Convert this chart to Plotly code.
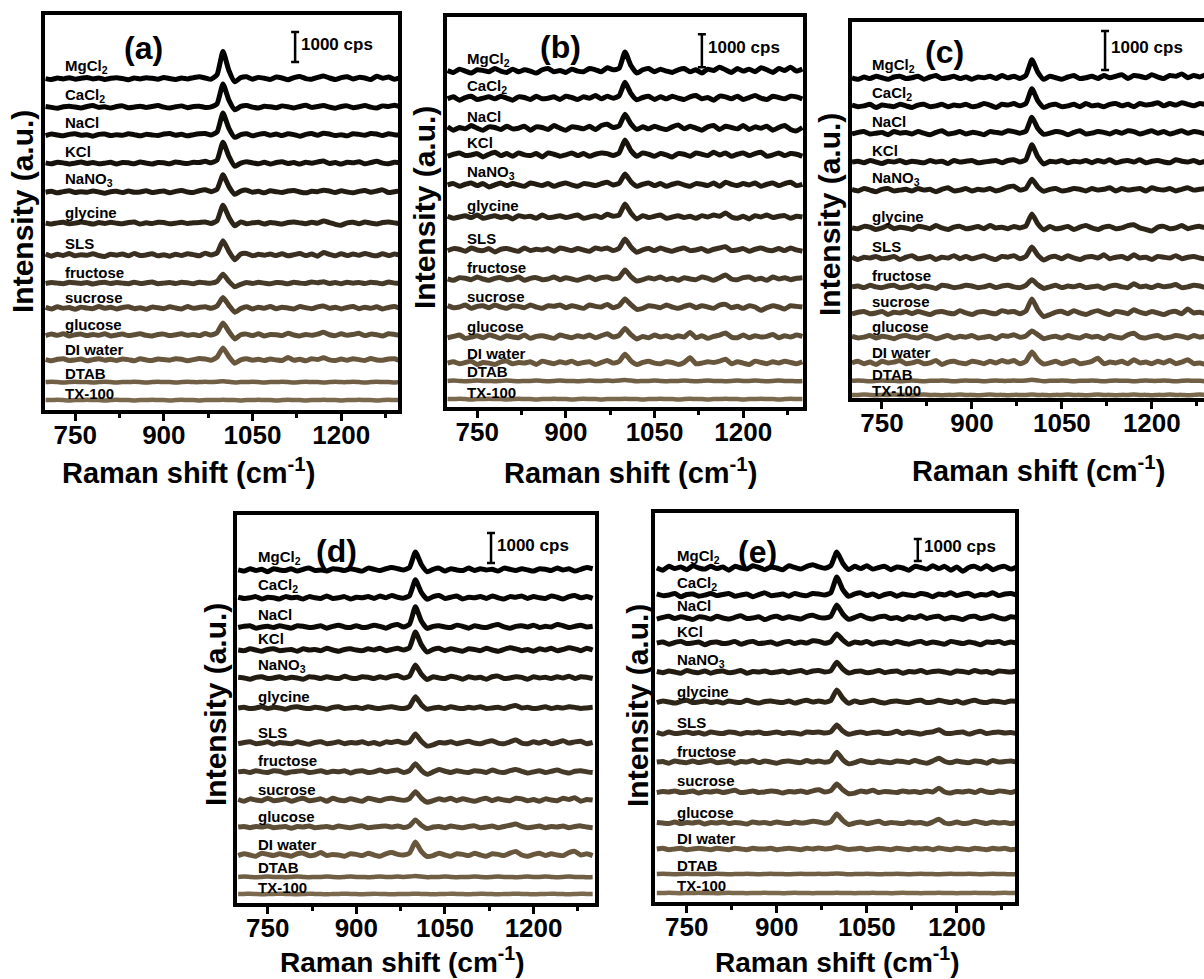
import plotly.graph_objects as go

# ---------------- data ----------------
SHIFT = list(range(700, 1301, 10))  # Raman shift grid, cm-1

LABELS = ["MgCl<sub>2</sub>", "CaCl<sub>2</sub>", "NaCl", "KCl", "NaNO<sub>3</sub>",
          "glycine", "SLS", "fructose", "sucrose", "glucose", "DI water", "DTAB", "TX-100"]

COLORS = ["#000000", "#060503", "#0c0a06", "#16120b", "#211b12", "#2d2518", "#3a2f20",
          "#463a28", "#52442f", "#5d4e37", "#68573d", "#715f45", "#7b694e"]

PANEL_TAGS = ["(a)", "(b)", "(c)", "(d)", "(e)"]

# vertical stacking offsets of each spectrum (cps)
OFFSETS_A = [11050, 10100, 9170, 8230, 7270, 6230, 5170, 4230, 3400, 2500, 1670, 930, 330]
OFFSETS_B = [10180, 9360, 8450, 7640, 6730, 5760, 4760, 3880, 3030, 2120, 1330, 790, 240]
OFFSETS_C = [8210, 7490, 6790, 6050, 5330, 4360, 3590, 2850, 2180, 1560, 900, 440, 80]
OFFSETS_D = [11100, 10170, 9200, 8430, 7500, 6500, 5330, 4370, 3430, 2530, 1600, 870, 300]
OFFSETS_E = [15180, 13950, 12910, 11770, 10450, 9090, 7680, 6360, 5000, 3590, 2410, 1270, 410]

DTAB_FLAT = [0,10,0,-10,0,10,0,0,-10,0, 10,0,-10,0,0,10,0,-10,0,10, 0,0,-10,0,10,0,0,10,0,10,
             30,10,-10,0,0,10,0,-10,0,0, 10,0,-10,0,10,0,0,-10,0,10, 0,0,10,0,-10,0,10,0,0,-10, 0]
TX100_FLAT = [0,0,10,0,-10,0,0,10,0,0, -10,0,10,0,0,-10,0,0,10,0, 0,-10,0,10,0,0,-10,0,0,0,
              10,0,0,-10,0,0,10,0,0,-10, 0,10,0,0,-10,0,0,10,0,0, -10,0,0,10,0,0,-10,0,10,0, 0]

# spectra relative to their offsets (cps), one row per sample, on the SHIFT grid
SPEC_A = [
    [0,-30,20,-10,30,-20,10,40,-10,20, -30,10,30,0,-40,20,-10,30,10,-20, 40,0,-30,20,-10,30,60,20,-20,130,
     900,270,-110,30,60,-20,40,10,-30,50, 20,-40,30,70,0,-20,40,90,20,-30, 30,60,-10,40,20,-30,80,10,50,-20, 30],
    [20,-10,-40,10,30,0,-30,20,50,-10, 10,-30,20,40,-20,0,30,-10,20,50, 0,-30,10,40,-20,20,30,-10,10,110,
     770,230,-90,20,50,0,-30,30,10,-20, 40,10,-30,20,60,-10,20,50,0,-40, 20,40,-20,10,50,0,-30,40,20,60, 10],
    [-20,30,0,-30,20,40,-10,10,-40,20, 30,-20,10,-10,40,10,-30,20,0,-20, 30,50,-10,20,-30,10,40,50,0,100,
     730,220,-80,10,40,-30,20,50,-10,30, -20,40,10,-40,20,50,-10,60,30,-20, 10,-30,40,20,-10,50,30,-20,40,10, -10],
    [10,-20,30,10,-30,0,40,-10,20,-20, 0,30,-30,20,10,-20,40,0,-30,20, 10,-20,40,10,-10,30,20,60,10,100,
     700,230,-100,0,50,10,-20,30,-30,20, 50,-10,20,-30,30,0,40,70,-10,20, -30,30,10,50,-20,20,60,0,-20,30, 20],
    [-10,20,-30,10,40,-20,10,-10,30,0, -40,10,20,-20,30,-10,0,40,-20,10, 30,-30,20,50,0,-20,40,70,10,90,
     570,180,-80,30,60,-10,20,-30,40,10, -20,30,50,0,-30,20,10,60,30,-20, 40,0,-30,20,50,-10,30,70,-20,10, 30],
    [0,-30,10,30,-20,0,40,10,-30,20, -10,30,0,-20,20,40,-30,10,-10,30, 20,-20,0,30,-10,10,20,40,-10,80,
     600,200,-90,40,-20,10,30,-30,20,0, -30,20,40,10,-20,30,0,70,20,-40, -70,10,30,-20,40,0,-30,20,40,10, -20],
    [30,-40,20,-20,50,-30,10,-10,40,-20, -50,20,-10,30,-30,50,-20,0,40,-30, 10,-40,20,-20,40,10,-30,60,0,70,
     470,120,-160,30,50,-30,20,-10,30,-20, 40,-30,10,50,-20,30,-40,80,20,-30, 40,-20,30,-10,50,0,-30,40,-20,30, -10],
    [-10,20,0,-20,30,10,-10,20,-30,10, 30,-10,20,0,-20,30,-10,10,40,-20, 0,20,-10,30,10,-20,30,10,0,60,
     300,60,-120,-40,20,-10,30,0,-20,20, 10,-20,30,0,-10,40,10,50,-10,20, -20,30,0,20,-10,30,10,-20,40,0, -10],
    [20,-30,40,-10,20,-40,30,0,-20,50, -10,30,-30,20,40,-20,10,-40,30,10, -20,40,0,-30,50,-10,20,40,-10,70,
     350,90,-140,-20,40,-30,30,-10,50,-20, 30,0,-30,50,10,-20,40,70,-10,30, -30,20,50,-20,30,-10,40,-30,20,50, -20],
    [-20,30,-10,40,-30,10,30,-20,20,-10, 40,-30,0,30,-20,10,40,-10,-30,20, 30,-20,10,40,-10,20,-20,50,0,80,
     400,120,-130,10,30,-20,40,-30,20,10, -20,60,0,-30,20,-10,30,90,10,-20, 40,-10,20,60,-20,30,10,-30,40,20, -10],
    [10,-30,20,40,-20,0,30,-30,10,40, -10,20,-20,30,10,-30,40,0,-20,30, 10,-10,40,20,-30,10,50,30,-10,90,
     400,110,-110,0,40,-10,20,-20,30,0, -20,80,-10,20,-30,40,10,70,0,-20, 30,-10,40,10,-20,50,0,-10,30,40, -30],
    DTAB_FLAT,
    TX100_FLAT,
]

SPEC_B = [
    [20,-40,60,0,-60,40,20,-20,80,0, -40,60,-20,40,0,-60,40,80,-20,20, -40,60,0,-20,80,40,-20,100,40,80,
     580,170,-60,40,80,-20,60,0,-40,40, 80,-20,40,-60,60,20,120,40,-40,80, 0,60,-20,100,40,-40,80,20,120,0, 60],
    [-20,40,-60,20,60,-40,0,40,-20,60, 0,-60,40,20,-40,60,-20,0,40,-40, 60,20,-40,40,0,80,-20,60,0,70,
     480,140,-50,20,60,-40,40,-20,60,0, -40,40,80,-20,20,-60,60,40,-20,60, -40,20,80,0,-40,60,20,-20,60,40, -20],
    [40,-60,20,-20,80,0,-60,40,20,-40, 60,-20,0,60,-60,40,20,-40,80,0, -60,40,20,-20,60,-40,80,120,20,70,
     420,130,-40,40,-20,60,0,-40,40,100, -20,60,0,-60,40,80,-40,60,20,-20, 80,-40,40,0,60,-60,20,80,-40,-80, 20],
    [-40,20,60,-20,0,40,-60,20,80,-20, 40,-40,60,0,-20,40,-60,60,20,-40, 0,60,-20,40,-40,20,60,40,-20,60,
     450,130,-40,60,20,-40,40,0,-60,40, 20,-40,60,20,-20,80,0,60,-40,20, 60,-20,40,80,-40,0,60,-20,40,20, -40],
    [0,40,-40,20,60,-20,40,-60,0,60, -20,40,0,-40,60,20,-20,40,-40,20, 60,0,-40,40,20,-20,40,80,0,50,
     330,100,-40,20,60,-20,40,-40,20,60, 0,-40,40,20,-20,60,-40,80,20,-20, 40,0,60,-40,20,60,-20,40,80,-20, 20],
    [20,-40,0,40,-20,60,-40,0,40,-20, 20,-60,40,0,20,-40,60,-20,0,40, -20,20,60,-40,0,40,-20,80,20,60,
     390,120,-60,40,-20,20,60,-40,0,40, -20,20,-40,40,0,60,20,120,0,-40, 20,-60,40,0,60,-20,20,40,-40,20, 0],
    [-20,40,20,-40,60,0,-20,40,-60,20, 40,0,-40,60,-20,20,0,40,-40,60, 20,-20,40,0,-40,60,20,60,-20,50,
     330,90,-70,0,40,-20,60,0,-40,20, 60,-20,0,40,-40,20,60,100,-20,0, 40,-40,20,60,0,-20,40,-20,60,0, -40],
    [0,-40,40,20,-20,60,0,-40,20,40, -20,0,60,-40,20,40,-20,0,60,-20, 40,0,-40,20,60,-20,40,60,0,40,
     270,70,-60,-20,40,0,60,-20,20,-40, 40,0,-20,60,20,-40,40,120,0,-20, 40,60,-20,20,-40,60,0,40,-20,20, 40],
    [40,-20,0,60,-40,20,40,-20,60,0, -40,40,20,-20,60,0,-40,40,20,60, -20,40,0,-40,60,20,0,80,-20,40,
     240,70,-70,-40,40,20,-20,60,0,-40, 20,60,-20,40,0,-40,60,80,-20,20, -40,40,0,-100,-20,40,0,-60,40,20, 0],
    [-20,20,60,-40,0,40,-20,60,20,-40, 40,0,-20,60,-40,20,40,0,-40,60, 20,-20,40,0,60,-20,40,100,0,50,
     260,70,-60,20,-20,60,0,40,-20,40, 0,140,-20,40,-40,20,60,120,0,-20, 60,-20,40,0,20,80,-20,40,0,60, 20],
    [0,40,-20,20,60,-40,20,0,-40,40, 60,-20,20,0,40,-40,60,20,-20,40, 0,60,-20,20,40,-40,20,80,0,50,
     270,70,-40,20,60,0,-20,40,20,-40, 20,160,-20,0,40,20,60,120,-20,40, 0,-40,60,20,-20,40,0,60,20,-20, 40],
    DTAB_FLAT,
    TX100_FLAT,
]

SPEC_C = [
    [0,-40,20,-20,40,0,-40,20,40,-20, 0,40,-40,20,60,-20,0,40,-20,20, -40,20,0,40,-20,60,0,40,-20,60,
     460,140,-40,40,0,-40,20,60,-20,0, 40,-20,60,0,40,80,-20,60,40,0, 80,20,-20,60,40,100,0,60,20,80, 60],
    [20,-20,0,40,-40,20,0,-20,40,0, -40,20,40,-20,0,40,-20,20,0,40, -20,0,60,20,-40,40,20,60,0,60,
     440,130,-40,20,40,-20,0,40,-20,60, 0,20,-20,40,60,0,40,-20,60,20, 40,80,0,60,20,80,40,0,60,40, 80],
    [-20,20,40,-20,0,20,-40,40,0,20, -20,40,0,-40,20,60,-20,0,40,-20, 20,0,-40,40,20,0,60,40,0,50,
     410,120,-30,0,40,20,-40,20,60,-20, 0,40,20,-20,40,0,60,40,-20,20, 60,0,40,-20,20,60,0,40,20,-20, 40],
    [0,20,-20,40,0,-40,20,0,40,-20, 20,0,-20,40,0,20,-40,40,0,20, 40,-20,0,20,40,-20,40,60,0,60,
     440,130,-50,20,0,40,-20,20,0,40, -20,40,0,60,-20,20,40,0,60,-20, 20,40,0,-20,60,20,0,40,-20,20, 0],
    [20,-20,40,0,-40,20,40,-20,0,20, -20,40,0,20,-40,20,60,-20,0,40, -20,20,0,40,-20,20,80,100,0,40,
     280,80,-30,20,40,-20,0,40,20,-20, 40,0,20,60,-20,40,0,20,40,-20, 60,20,0,40,-20,20,60,0,20,40, -20],
    [0,-20,40,20,-40,0,60,-20,20,0, -40,40,20,-20,60,0,-40,20,40,-20, 0,40,-20,60,0,20,-20,40,0,50,
     360,100,-50,40,-20,0,40,-40,20,60, 0,-40,20,40,-20,0,60,80,0,-40, -80,20,40,-20,0,60,-20,20,40,0, 20],
    [20,-40,20,0,40,-20,0,40,-40,20, 60,-20,0,40,-40,20,0,60,-20,40, -20,20,60,0,-40,40,20,60,-20,40,
     280,70,-50,20,40,-20,60,0,-40,20, 40,0,80,-20,20,40,-20,80,0,20, -40,40,20,0,60,-20,20,40,0,-20, 40],
    [0,20,-20,40,0,-20,20,40,-20,0, 40,-20,20,0,-40,40,20,-20,0,40, 20,-20,0,40,-20,20,40,0,-20,40,
     180,50,-40,0,40,-20,20,0,40,-20, 0,20,-40,20,40,0,-20,80,0,20, -20,40,0,20,60,-20,0,40,20,-20, 0],
    [-20,20,40,-20,0,40,-40,20,0,40, -20,40,0,-40,20,40,0,-20,60,0, -40,20,40,0,-20,60,20,40,-20,50,
     360,80,-90,-40,20,40,-20,60,0,-40, 20,60,0,-40,40,20,-20,80,20,-20, 40,0,-40,20,40,-20,100,0,20,-20, 40],
    [20,-20,0,40,-20,20,0,-40,20,40, 0,-20,40,20,-40,0,40,-20,20,0, 40,-20,0,20,-40,40,20,60,0,30,
     160,60,-40,0,20,-20,40,0,-20,40, 0,20,-40,40,0,-20,60,100,0,-20, 20,40,-20,0,40,20,-20,40,0,20, -20],
    [0,40,-20,20,-40,40,0,20,60,-20, 0,40,-20,0,60,-40,20,40,0,-20, 40,20,-20,40,0,60,20,60,-20,40,
     280,80,-30,0,40,-20,20,60,-20,0, 40,120,-20,20,0,40,-20,80,0,20, -20,40,0,60,-20,20,80,-20,0,-40, 20],
    DTAB_FLAT,
    TX100_FLAT,
]

SPEC_D = [
    [0,-40,40,-20,20,-60,40,0,-20,40, -40,20,60,-20,0,-40,40,20,-20,40, 0,-40,60,20,-20,40,80,40,0,80,
     600,180,-60,20,60,-40,40,0,-20,60, -20,40,0,20,-40,60,20,-20,40,0, -40,40,20,-20,60,0,40,-40,20,80, 40],
    [20,-20,0,40,-40,20,0,-40,40,0, 20,-40,40,0,-20,60,-20,0,40,-40, 20,0,40,-20,60,0,80,20,-10,70,
     600,180,-50,40,80,-20,20,60,-40,20, 0,40,-20,60,0,-40,40,20,60,-20, 40,0,-20,60,20,-40,40,80,0,40, -20],
    [-20,20,40,-40,0,20,-20,40,0,-40, 40,20,-20,0,40,-40,20,60,0,-20, 40,-20,0,60,20,-40,40,80,0,90,
     670,200,-50,20,40,0,-20,60,20,-40, 40,0,-20,40,80,0,-40,20,40,0, 60,-20,20,0,80,40,-20,20,60,0, 20],
    [0,-20,40,0,-40,20,40,-20,0,20, -40,40,0,20,-20,60,0,-40,20,40, 0,-20,40,0,60,-20,20,60,0,80,
     600,180,-70,20,60,-20,40,0,-40,40, 20,-20,60,0,-40,20,80,40,-20,20, -40,40,0,60,-20,20,80,40,-20,60, 0],
    [20,0,-40,20,40,-20,0,40,-20,20, 0,-40,40,20,-20,40,0,-20,60,0, -20,40,20,-20,40,0,60,80,0,60,
     430,130,-50,40,0,-20,60,20,-40,40, 0,20,-40,40,60,-20,0,40,20,-40, 40,0,20,-20,40,0,60,-20,40,20, -20],
    [0,20,-20,0,40,-20,20,0,-40,20, 40,0,-20,20,0,-40,20,40,-20,0, 20,-20,40,0,-20,20,40,0,-20,50,
     370,110,-40,0,20,-20,40,0,-20,20, 0,40,-20,0,20,-20,40,80,0,20, -20,0,40,-20,20,0,40,20,-20,0, 20],
    [-20,20,40,-20,0,40,-40,20,0,-20, 40,0,-40,20,40,-20,0,40,-20,20, 0,40,-20,20,-40,40,20,60,0,40,
     300,60,-100,-60,20,0,40,-20,20,60, 0,-20,40,80,0,-20,40,100,0,-20, 40,0,60,-20,20,80,0,40,60,-20, 20],
    [0,20,-20,40,0,-20,40,20,-40,0, 20,40,-20,0,40,-20,20,0,40,-40, 20,40,-20,0,60,0,40,60,-20,40,
     270,50,-80,0,80,20,-20,40,0,-20, 40,20,-20,60,0,-20,40,80,20,-40, 0,40,-20,20,60,0,-40,20,40,0, -20],
    [20,-40,40,0,-20,60,-20,0,40,-40, 20,60,-20,0,40,-40,60,0,-20,40, 0,-40,60,20,-20,40,60,20,-10,50,
     280,60,-70,-20,40,0,60,-20,40,0, -40,20,60,-20,40,0,-20,60,40,-20, 20,-40,40,0,-20,60,20,80,-40,20, 0],
    [0,20,-20,20,0,40,-20,0,20,-40, 20,0,40,-20,0,20,-20,40,0,-20, 20,40,-20,0,20,40,0,40,-10,40,
     240,60,-50,0,20,-20,40,0,-20,20, 40,-20,0,40,-20,20,60,100,20,-20, 0,40,-20,20,0,40,-20,20,40,0, -20],
    [-20,40,0,-40,60,20,-20,40,0,-40, 40,60,-20,0,80,-20,20,0,-40,40, 20,-20,60,0,-40,40,80,20,0,60,
     430,120,-50,-20,60,0,-40,40,20,-20, 60,0,-40,40,20,-20,60,120,0,-40, 20,60,-20,40,0,-20,80,120,0,40, -20],
    DTAB_FLAT,
    TX100_FLAT,
]

SPEC_E = [
    [0,-100,75,-25,50,-75,100,0,-50,75, -25,50,-100,75,0,-50,100,25,-75,50, 0,-75,100,25,-50,75,150,50,-10,100,
     730,220,-70,75,-25,100,-50,25,75,-75, 50,0,-100,75,25,-50,100,-25,75,-100, 50,-150,25,75,-50,100,-75,25,75,-50, 50],
    [50,-25,0,75,-75,25,50,-50,0,75, -25,25,75,-50,0,50,-75,25,100,-25, 0,50,-50,75,0,-25,75,50,0,110,
     820,250,-60,50,100,-25,50,-75,25,75, -50,50,0,-25,75,25,-75,50,0,100, -25,50,75,-50,25,0,100,-25,50,75, 0],
    [-50,25,75,-25,50,0,-75,50,25,-50, 75,0,-50,25,100,-25,0,50,-75,25, 75,-25,50,0,-50,75,125,25,0,80,
     590,180,-60,25,125,0,-50,50,75,-25, 25,-75,50,0,100,-25,50,75,-50,25, 0,-75,50,75,-25,25,100,0,-50,50, 25],
    [0,50,-50,25,75,-25,0,50,-75,25, 50,-25,0,75,-50,25,75,-25,0,50, -50,25,75,-25,50,0,100,75,-10,60,
     410,140,-60,50,0,75,-50,25,50,-25, 75,0,-50,25,75,-25,50,0,-50,75, 25,-25,50,0,-75,50,25,75,-25,50, 0],
    [25,-25,50,0,-50,75,0,-25,50,-50, 25,50,-25,0,75,-50,25,0,50,-25, 0,50,-25,25,75,-25,50,75,0,60,
     450,140,-40,25,50,-25,0,75,-25,25, 50,-50,25,0,75,-25,25,50,0,-50, 50,25,-25,75,0,25,-50,50,25,0, 50],
    [-25,50,0,-50,25,75,-25,0,50,-25, 25,-50,50,0,-25,75,0,-50,25,50, 0,-25,50,-50,25,75,0,50,-10,70,
     550,170,-60,50,-25,25,75,0,-50,25, 50,0,-25,50,75,-25,0,75,25,-25, 50,-50,25,75,0,-25,50,25,-25,50, 25],
    [25,-50,50,-25,0,50,-25,25,-50,50, 0,-25,50,25,-50,25,0,50,-25,0, 50,-25,25,0,-50,50,25,50,0,50,
     360,90,-60,0,50,-25,25,50,-25,0, 75,-25,50,0,-50,25,50,150,0,-25, 25,50,-50,25,75,-25,25,50,0,25, -25],
    [0,25,-50,50,0,-25,50,-25,25,75, -25,0,50,-50,25,0,75,-25,50,0, -50,25,50,0,-25,75,0,50,-10,60,
     450,110,-80,-25,75,0,-25,50,0,-25, 50,25,-25,75,0,-50,50,175,25,-25, 50,0,-25,50,25,-50,75,0,25,50, 0],
    [-25,25,0,50,-25,0,50,-50,25,0, 50,-25,25,75,-25,0,50,-25,0,50, 25,-50,25,0,50,-25,50,100,0,60,
     360,100,-80,-50,50,0,75,-25,25,0, -25,50,0,25,-25,50,0,175,0,-50, 25,0,50,-25,75,0,-25,50,25,-25, 50],
    [25,0,-25,50,-25,25,0,50,-50,25, 0,50,-25,25,0,-50,50,0,25,-25, 50,0,-25,50,0,25,75,50,-10,60,
     410,120,-70,0,50,-25,25,75,-25,25, 0,-25,50,0,25,-50,50,175,0,-25, 50,-25,0,75,25,-25,50,0,25,-25, 25],
    [0,30,-30,0,30,-30,0,30,0,-30, 30,0,-30,30,0,-30,30,0,0,30, -30,0,30,0,-30,30,0,45,0,20,
     90,30,-20,0,30,-30,0,30,0,-30, 30,0,-30,30,0,30,-30,45,0,-30, 30,0,-30,30,0,-30,30,0,30,-30, 0],
    DTAB_FLAT,
    TX100_FLAT,
]

# x / y axis ranges of each panel
X_RANGES = [[699, 1296], [699, 1301], [700, 1287], [698, 1304], [697, 1297]]
Y_RANGES = [[0, 13170], [0, 11820], [0, 9640], [0, 12930], [0, 17680]]
MAJOR_TICKS = [750, 900, 1050, 1200]
MINOR_TICKS = [825, 975, 1125, 1275]

# 1000 cps scale bar: position (cm-1) and lower end (cps)
SCALE_X = [1122, 1130, 1122, 1128, 1135]
SCALE_Y0 = [11600, 10300, 8410, 11330, 15500]
SCALE_LEN = 1000
LABEL_X = 730

# ---------------- layout helpers ----------------
W, H = 1204, 979
FONT = "Arial, Liberation Sans, Helvetica, sans-serif"

def fx(px):
    return px / W

def fy(py):
    return 1 - py / H

# panel frames in pixels: left, right, top, bottom
FRAMES = [(45, 398, 15, 410), (447, 803, 17, 407), (852, 1204, 22, 398),
          (237, 595, 515, 903), (655, 1015, 513, 902)]
TAG_POS = [(143, 48), (560, 47), (945, 52), (336, 551), (757, 552)]
XTITLE_POS = [(188, 471), (630, 471), (1038, 469), (402, 960), (837, 960)]
XTITLE_SIZE = [29, 29, 29, 28, 28]
YTITLE_POS = [(22, 212), (425, 208), (829, 215), (215, 705), (637, 706)]
LABEL_SHIFT = [12, 12, 12, 12, 12, 11, 11, 11, 11, 11, 10, 9, 7]

SPECS = [SPEC_A, SPEC_B, SPEC_C, SPEC_D, SPEC_E]
OFFSETS = [OFFSETS_A, OFFSETS_B, OFFSETS_C, OFFSETS_D, OFFSETS_E]

fig = go.Figure()
layout = {}
annotations = []

for k in range(5):
    n = "" if k == 0 else str(k + 1)
    xa, ya = "x" + n, "y" + n
    L, R, T, B = FRAMES[k]

    for i in range(12, -1, -1):
        yvals = [OFFSETS[k][i] + v for v in SPECS[k][i]]
        fig.add_trace(go.Scatter(
            x=SHIFT, y=yvals, mode="lines", xaxis=xa, yaxis=ya,
            line=dict(color=COLORS[i], width=5 if i < 11 else 4.5, shape="spline", smoothing=0.5),
            showlegend=False, hoverinfo="skip"))
        shift = LABEL_SHIFT[i] - (3 if (k == 2 and i >= 11) else 0)
        annotations.append(dict(
            x=LABEL_X, y=OFFSETS[k][i], xref=xa, yref=ya, text=LABELS[i], showarrow=False,
            xanchor="left", yanchor="middle", yshift=shift,
            font=dict(family=FONT, size=15, color="black", weight="bold")))

    # scale bar
    fig.add_trace(go.Scatter(
        x=[SCALE_X[k]], y=[SCALE_Y0[k] + SCALE_LEN / 2], mode="markers", xaxis=xa, yaxis=ya,
        marker=dict(size=2, color="black"),
        error_y=dict(type="data", array=[SCALE_LEN / 2], color="black", thickness=2.5, width=4),
        showlegend=False, hoverinfo="skip"))
    annotations.append(dict(
        x=SCALE_X[k], y=SCALE_Y0[k] + SCALE_LEN / 2, xref=xa, yref=ya, text="1000 cps",
        showarrow=False, xanchor="left", yanchor="middle", xshift=4, yshift=3,
        font=dict(family=FONT, size=17, color="black", weight="bold")))

    layout["xaxis" + n] = dict(
        domain=[fx(L), fx(R)], range=X_RANGES[k], anchor=ya,
        showline=True, linewidth=4, linecolor="black", mirror=True,
        ticks="outside", ticklen=7, tickwidth=3, tickcolor="black",
        tickmode="array", tickvals=MAJOR_TICKS, ticklabelstandoff=-8,
        minor=dict(ticks="outside", ticklen=4, tickwidth=3, tickcolor="black", tickvals=MINOR_TICKS),
        tickfont=dict(family=FONT, size=26, color="black", weight="bold"),
        showgrid=False, zeroline=False, fixedrange=True)
    layout["yaxis" + n] = dict(
        domain=[fy(B), fy(T)], range=Y_RANGES[k], anchor=xa,
        showline=True, linewidth=4, linecolor="black", mirror=(k != 2),
        ticks="", showticklabels=False, showgrid=False, zeroline=False, fixedrange=True)

    annotations.append(dict(
        x=fx(TAG_POS[k][0]), y=fy(TAG_POS[k][1]), xref="paper", yref="paper", text=PANEL_TAGS[k],
        showarrow=False, xanchor="center", yanchor="middle",
        font=dict(family=FONT, size=32, color="black", weight="bold")))
    annotations.append(dict(
        x=fx(XTITLE_POS[k][0]), y=fy(XTITLE_POS[k][1]), xref="paper", yref="paper",
        text="Raman shift (cm<sup>-1</sup>)", showarrow=False, xanchor="center", yanchor="middle",
        font=dict(family=FONT, size=XTITLE_SIZE[k], color="black", weight="bold")))
    annotations.append(dict(
        x=fx(YTITLE_POS[k][0]), y=fy(YTITLE_POS[k][1]), xref="paper", yref="paper",
        text="Intensity (a.u.)", showarrow=False, textangle=-90, xanchor="center", yanchor="middle",
        font=dict(family=FONT, size=30, color="black", weight="bold")))

fig.update_layout(
    width=W, height=H, margin=dict(l=0, r=0, t=0, b=0),
    paper_bgcolor="white", plot_bgcolor="white",
    annotations=annotations, **layout)

fig.write_html("out.html", config={"displayModeBar": False},
               post_script="document.body.style.margin='0';")
